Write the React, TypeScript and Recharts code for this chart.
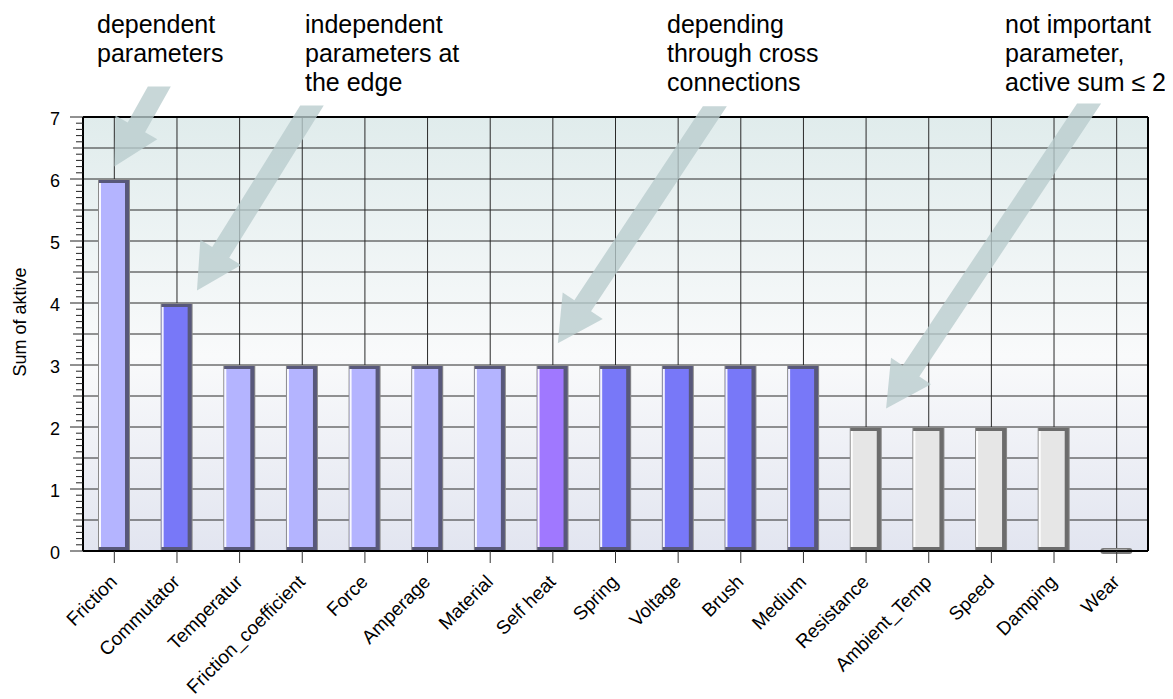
import React from "react";
import {
  BarChart,
  Bar,
  XAxis,
  YAxis,
  CartesianGrid,
  ReferenceDot,
} from "recharts";

const categories = [
  "Friction",
  "Commutator",
  "Temperatur",
  "Friction_coefficient",
  "Force",
  "Amperage",
  "Material",
  "Self heat",
  "Spring",
  "Voltage",
  "Brush",
  "Medium",
  "Resistance",
  "Ambient_Temp",
  "Speed",
  "Damping",
  "Wear",
];
const activeSums = [6, 4, 3, 3, 3, 3, 3, 3, 3, 3, 3, 3, 2, 2, 2, 2, 0];

const yMajorTicks = [0, 1, 2, 3, 4, 5, 6, 7];
const gridValues = [0.5, 1, 1.5, 2, 2.5, 3, 3.5, 4, 4.5, 5, 5.5, 6, 6.5, 7];

const noteLines = [
  ["dependent", "parameters"],
  ["independent", "parameters at", "the edge"],
  ["depending", "through cross", "connections"],
  ["not important", "parameter,", "active sum \u2264 2"],
];
const arrowCategories = ["Friction", "Commutator", "Self heat", "Resistance"];
const arrowValues = [6.2, 4.2, 3.35, 2.3];

// styles
const LIGHT = "#b4b4ff";
const DARK = "#7878f8";
const PURPLE = "#a078ff";
const GRAY = "#e6e6e6";
const barColors = [
  LIGHT, DARK, LIGHT, LIGHT, LIGHT, LIGHT, LIGHT, PURPLE,
  DARK, DARK, DARK, DARK, GRAY, GRAY, GRAY, GRAY, GRAY,
];
const notePos = [
  [89, 2],
  [297, 2],
  [659, 2],
  [997, 2],
];
const arrowTipDx = [0, 20, 5, 20];
const arrowTail = [
  [45, -80],
  [115, -185],
  [157, -237],
  [203, -305],
];

const FONT = "'Liberation Sans', Arial, Helvetica, sans-serif";
const data = categories.map((name, i) => ({ name, value: activeSums[i] }));
const yMinorTicks = Array.from({ length: 71 }, (_, i) => i / 10);

const yPos = (props: any, v: number) =>
  props.yAxis && typeof props.yAxis.scale === "function"
    ? props.yAxis.scale(v)
    : props.offset.top + props.offset.height * (1 - v / 7);

const BevelBar = (props: any) => {
  const { x, y, width, height, index } = props;
  const fill = barColors[index];
  const isGray = fill === GRAY;
  if (!height || height < 1) {
    return (
      <g>
        <rect x={x} y={y - 3} width={width} height={6} rx={3} fill="#7a7a7a" />
        <rect x={x + 3} y={y - 2} width={width - 8} height={2} rx={1} fill="#a8a8a8" />
      </g>
    );
  }
  const edge = isGray ? "#6c6c6c" : "#58587a";
  return (
    <g>
      <rect x={x} y={y} width={width} height={height} fill="#8a8a8a" />
      <rect x={x + 1} y={y + 1} width={width - 2} height={height - 2} fill={edge} />
      <rect x={x + 1} y={y + 4} width={width - 6} height={height - 8} fill={fill} />
      <rect x={x + 1} y={y + 4} width={2} height={height - 8} fill="#ffffff" opacity={0.9} />
    </g>
  );
};

const YTick = (props: any) => {
  const { x, y, payload } = props;
  const v = payload.value;
  const major = yMajorTicks.includes(v);
  const half = Number.isInteger(v * 2);
  const len = major ? 13 : half ? 10 : 7;
  return (
    <g>
      <line x1={x - len} x2={x} y1={y} y2={y} stroke="#222" strokeWidth={1} />
      {major && (
        <text
          x={x - 23}
          y={y}
          dy={8}
          textAnchor="end"
          fontSize={18}
          fontFamily={FONT}
          fill="#000"
        >
          {v}
        </text>
      )}
    </g>
  );
};

const XTick = (props: any) => {
  const { x, y, payload } = props;
  return (
    <text
      x={x + 4}
      y={y + 20}
      transform={`rotate(-45 ${x + 4} ${y + 20})`}
      textAnchor="end"
      fontSize={19}
      fontFamily={FONT}
      fill="#000"
    >
      {payload.value}
    </text>
  );
};

const YLabel = (props: any) => {
  const { viewBox } = props;
  const cx = viewBox.x + 12;
  const cy = viewBox.y + viewBox.height / 2 - 12;
  return (
    <text
      x={cx}
      y={cy}
      transform={`rotate(-90 ${cx} ${cy})`}
      textAnchor="middle"
      dominantBaseline="central"
      fontSize={18}
      fontFamily={FONT}
      fill="#000"
    >
      Sum of aktive
    </text>
  );
};

const makeArrow = (i: number) => (props: any) => {
  const { cx, cy } = props;
  const tipX = cx + arrowTipDx[i];
  const tipY = cy;
  const [dx, dy] = arrowTail[i];
  const len = Math.hypot(dx, dy);
  const ux = dx / len;
  const uy = dy / len;
  const nx = -uy;
  const ny = ux;
  const headLen = 45;
  const headW = 48;
  const shaftW = 20;
  const bx = tipX + ux * headLen;
  const by = tipY + uy * headLen;
  const tailY = tipY + dy;
  const edge = (s: number) => {
    const px = bx + nx * s;
    const py = by + ny * s;
    const t = (tailY - py) / uy;
    return [px + ux * t, py + uy * t];
  };
  const e1 = edge(shaftW / 2);
  const e2 = edge(-shaftW / 2);
  const pts = [
    [tipX, tipY],
    [bx + nx * headW / 2, by + ny * headW / 2],
    [bx + nx * shaftW / 2, by + ny * shaftW / 2],
    e1,
    e2,
    [bx - nx * shaftW / 2, by - ny * shaftW / 2],
    [bx - nx * headW / 2, by - ny * headW / 2],
  ];
  return (
    <polygon
      points={pts.map((p) => p.join(",")).join(" ")}
      fill="#b9cccd"
      fillOpacity={0.78}
    />
  );
};

export default function App() {
  return (
    <div style={{ position: "relative", width: 1157, height: 691, fontFamily: FONT }}>
      <BarChart
        width={1157}
        height={691}
        data={data}
        margin={{ top: 109, right: 17, bottom: 0, left: 0 }}
      >
        <defs>
          <linearGradient id="plotBg" x1="0" y1="0" x2="0" y2="1">
            <stop offset="0%" stopColor="#e0ecec" />
            <stop offset="55%" stopColor="#f9fafb" />
            <stop offset="100%" stopColor="#e2e5f0" />
          </linearGradient>
        </defs>
        <CartesianGrid
          fill="url(#plotBg)"
          fillOpacity={1}
          stroke="#2a2a2a"
          strokeWidth={1}
          vertical={true}
          horizontalCoordinatesGenerator={(p: any) => gridValues.map((v) => yPos(p, v))}
        />
        <CartesianGrid
          stroke="#000"
          strokeWidth={2}
          horizontalCoordinatesGenerator={(p: any) => [p.offset.top]}
          verticalCoordinatesGenerator={(p: any) => [p.offset.left + p.offset.width]}
        />
        <XAxis
          dataKey="name"
          interval={0}
          height={148}
          tickSize={12}
          tickMargin={0}
          tickLine={{ stroke: "#333" }}
          axisLine={{ stroke: "#000", strokeWidth: 2 }}
          tick={<XTick />}
        />
        <YAxis
          domain={[0, 7]}
          ticks={yMinorTicks}
          interval={0}
          width={75}
          tickSize={0}
          tickMargin={0}
          tickLine={false}
          axisLine={{ stroke: "#000", strokeWidth: 2 }}
          tick={<YTick />}
          label={<YLabel />}
        />
        <Bar
          dataKey="value"
          barSize={32}
          isAnimationActive={false}
          shape={<BevelBar />}
        />
        {arrowCategories.map((c, i) => (
          <ReferenceDot
            key={c}
            x={c}
            y={arrowValues[i]}
            r={0}
            ifOverflow="visible"
            shape={makeArrow(i)}
          />
        ))}
      </BarChart>
      {noteLines.map((lines, i) => (
        <div
          key={i}
          style={{
            position: "absolute",
            left: notePos[i][0],
            top: notePos[i][1],
            fontSize: 25,
            lineHeight: "29px",
            color: "#000",
            whiteSpace: "nowrap",
          }}
        >
          {lines.map((l) => (
            <div key={l}>{l}</div>
          ))}
        </div>
      ))}
    </div>
  );
}
